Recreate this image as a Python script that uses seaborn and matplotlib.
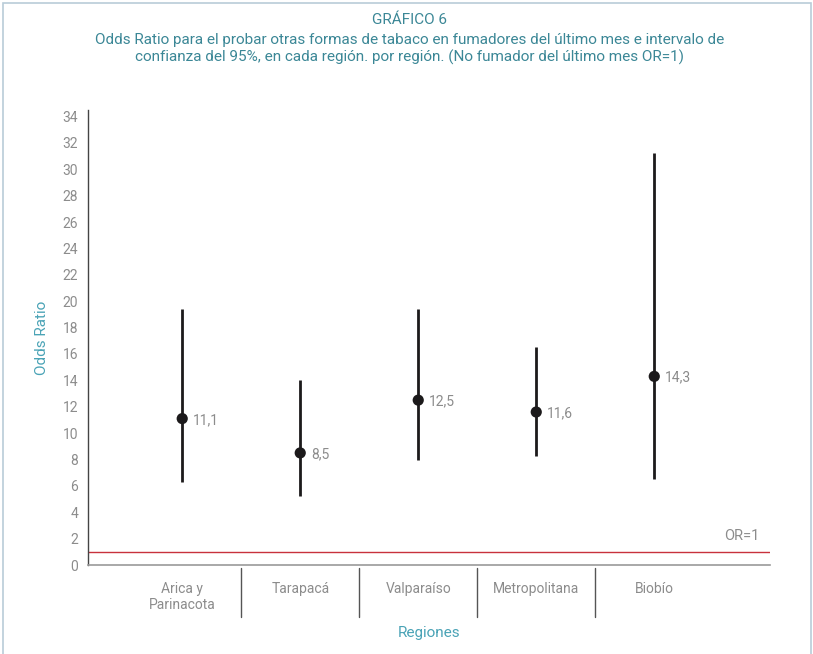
import numpy as np
import pandas as pd
import matplotlib.pyplot as plt
import seaborn as sns
from matplotlib.patches import Rectangle

# Data
regiones = ['Arica y\nParinacota', 'Tarapacá', 'Valparaíso', 'Metropolitana', 'Biobío']
odds_ratio = [11.1, 8.5, 12.5, 11.6, 14.3]
ic_inferior = [6.3, 5.2, 8.0, 8.3, 6.5]
ic_superior = [19.4, 14.0, 19.4, 16.5, 31.2]
etiquetas = ['11,1', '8,5', '12,5', '11,6', '14,3']
y_ticks = list(range(0, 35, 2))

df = pd.DataFrame({'region': regiones, 'pos': np.arange(len(regiones)),
                   'OR': odds_ratio, 'low': ic_inferior, 'high': ic_superior})

sns.set_theme(style='white')
plt.rcParams['font.family'] = ['Roboto', 'DejaVu Sans']

teal = '#3b8796'
teal_light = '#4aa3b6'
grey = '#8c8c8c'

fig = plt.figure(figsize=(8.13, 6.54), dpi=100)
ax = fig.add_axes([0.108, 0.136, 0.839, 0.696])

# frame around the figure
fig.patches.append(Rectangle((0.004, -0.01), 0.994, 1.005, transform=fig.transFigure,
                             fill=False, edgecolor='#b9ccd8', linewidth=1.2))

# confidence intervals and point estimates
ax.vlines(df['pos'], df['low'], df['high'], color='#1c1a1b', linewidth=2.0, zorder=2)
sns.scatterplot(data=df, x='pos', y='OR', ax=ax, color='#1c1a1b', s=65,
                edgecolor='none', zorder=3, legend=False)
for x, y, t in zip(df['pos'], df['OR'], etiquetas):
    ax.annotate(t, (x, y), xytext=(8, -1), textcoords='offset points',
                va='center', ha='left', color=grey, fontsize=10)

# reference line OR=1
ax.axhline(1, color='#c8323c', linewidth=1, zorder=1)
ax.text(0.985, 1.7, 'OR=1', transform=ax.get_yaxis_transform(), ha='right',
        va='bottom', color=grey, fontsize=10.5)

ax.set_xlim(-0.80, 4.98)
ax.set_ylim(0, 34.5)
ax.set_yticks(y_ticks)
ax.set_yticklabels([str(v) for v in y_ticks], color=grey, fontsize=10)
ax.set_xticks(df['pos'])
ax.set_xticklabels(regiones, color=grey, fontsize=10, va='top')
ax.tick_params(axis='both', length=0, pad=7)
ax.tick_params(axis='x', pad=12)

# separators between categories below the axis
for sep in np.arange(0.5, len(regiones) - 1, 1):
    ax.plot([sep, sep], [-0.007, -0.114], transform=ax.get_xaxis_transform(),
            color='#555555', linewidth=1, clip_on=False)

for s in ['top', 'right']:
    ax.spines[s].set_visible(False)
ax.spines['left'].set_color('#444444')
ax.spines['left'].set_linewidth(1)
ax.spines['bottom'].set_color('#9a9a9a')
ax.spines['bottom'].set_linewidth(1.2)

ax.set_ylabel('Odds Ratio', color=teal_light, fontsize=11, labelpad=10)
ax.set_xlabel('Regiones', color=teal_light, fontsize=11, labelpad=10)

fig.text(0.504, 0.969, 'GRÁFICO 6', ha='center', va='center', color=teal, fontsize=11)
fig.text(0.504, 0.925, 'Odds Ratio para el probar otras formas de tabaco en fumadores del último mes e intervalo de\n'
         'confianza del 95%, en cada región. por región. (No fumador del último mes OR=1)',
         ha='center', va='center', color=teal, fontsize=11, linespacing=1.15)

fig.savefig('out.png', dpi=100)
